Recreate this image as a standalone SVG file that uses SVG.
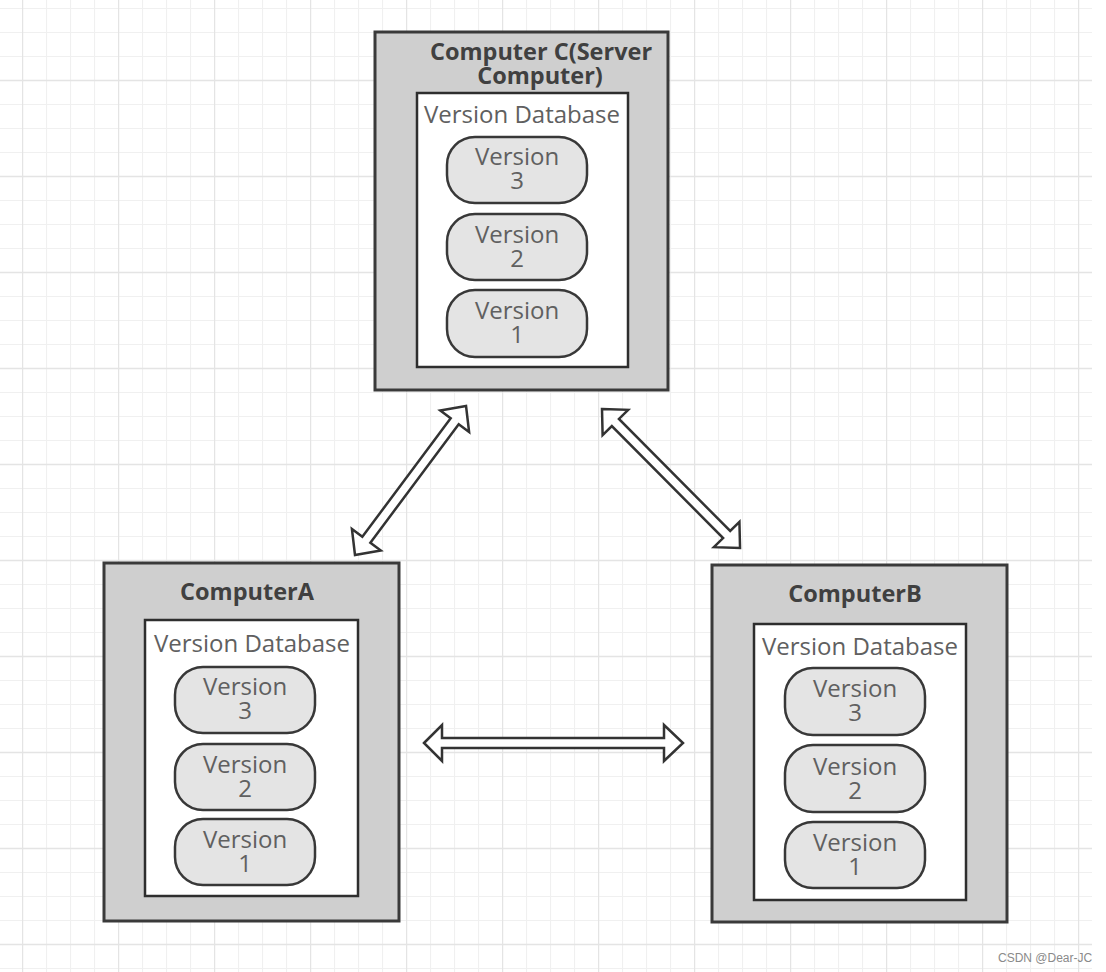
<svg xmlns="http://www.w3.org/2000/svg" width="1106" height="972" viewBox="0 0 1106 972">
<defs>
<pattern id="minor" patternUnits="userSpaceOnUse" x="22" y="8" width="24" height="24">
<path d="M0 0.5 H24 M0.5 0 V24" fill="none" stroke="#f0f0f0" stroke-width="1.2"/>
</pattern>
<pattern id="major" patternUnits="userSpaceOnUse" x="22" y="8" width="96" height="96">
<path d="M0 72.5 H96 M0.5 0 V96" fill="none" stroke="#e4e4e4" stroke-width="1.4"/>
</pattern>
<style>
.outer{fill:#cfcfcf;stroke:#3a3a3a;stroke-width:3}
.inner{fill:#ffffff;stroke:#2e2e2e;stroke-width:2.5}
.pill{fill:#e4e4e4;stroke:#383838;stroke-width:2.5}
.title{font-family:"Open Sans","DejaVu Sans",sans-serif;font-weight:bold;font-size:23.5px;fill:#404040;text-anchor:middle}
.db{font-family:"Open Sans","DejaVu Sans",sans-serif;font-size:24px;fill:#606060;text-anchor:middle}
.ver{font-family:"Open Sans","DejaVu Sans",sans-serif;font-size:24px;fill:#606060;text-anchor:middle}
.arrow{fill:#ffffff;stroke:#333333;stroke-width:2.5;stroke-linejoin:miter}
.wm{font-family:"Liberation Sans",Arial,sans-serif;font-size:12px;fill:#8a8a8a}
</style>
</defs>
<rect x="0" y="0" width="1106" height="972" fill="#ffffff"/>
<rect x="0" y="0" width="1092" height="972" fill="url(#minor)"/>
<rect x="0" y="0" width="1092" height="972" fill="url(#major)"/>

<g id="computerC">
<rect class="outer" x="375" y="32" width="293" height="358"/>
<text class="title" x="541" y="60"><tspan x="541" y="60">Computer C(Server</tspan><tspan x="540" y="84">Computer)</tspan></text>
<rect class="inner" x="417" y="93" width="211" height="274"/>
<text class="db" x="522" y="123">Version Database</text>
<rect class="pill" x="447" y="137" width="140" height="66" rx="28"/>
<text class="ver"><tspan x="517" y="165">Version</tspan><tspan x="517" y="189">3</tspan></text>
<rect class="pill" x="447" y="214" width="140" height="66" rx="28"/>
<text class="ver"><tspan x="517" y="243">Version</tspan><tspan x="517" y="267">2</tspan></text>
<rect class="pill" x="447" y="290" width="140" height="67" rx="28"/>
<text class="ver"><tspan x="517" y="319">Version</tspan><tspan x="517" y="343">1</tspan></text>
</g>

<g id="computerA">
<rect class="outer" x="104" y="563" width="295" height="358"/>
<text class="title" x="247" y="600">ComputerA</text>
<rect class="inner" x="145" y="620" width="213" height="276"/>
<text class="db" x="252" y="652">Version Database</text>
<rect class="pill" x="175" y="667" width="140" height="66" rx="28"/>
<text class="ver"><tspan x="245" y="695">Version</tspan><tspan x="245" y="719">3</tspan></text>
<rect class="pill" x="175" y="744" width="140" height="66" rx="28"/>
<text class="ver"><tspan x="245" y="773">Version</tspan><tspan x="245" y="797">2</tspan></text>
<rect class="pill" x="175" y="819" width="140" height="66" rx="28"/>
<text class="ver"><tspan x="245" y="848">Version</tspan><tspan x="245" y="872">1</tspan></text>
</g>

<g id="computerB">
<rect class="outer" x="712" y="565" width="295" height="357"/>
<text class="title" x="855" y="602">ComputerB</text>
<rect class="inner" x="754" y="624" width="212" height="276"/>
<text class="db" x="860" y="655">Version Database</text>
<rect class="pill" x="785" y="668" width="140" height="67" rx="28"/>
<text class="ver"><tspan x="855" y="697">Version</tspan><tspan x="855" y="721">3</tspan></text>
<rect class="pill" x="785" y="745" width="140" height="67" rx="28"/>
<text class="ver"><tspan x="855" y="775">Version</tspan><tspan x="855" y="799">2</tspan></text>
<rect class="pill" x="785" y="822" width="140" height="66" rx="28"/>
<text class="ver"><tspan x="855" y="851">Version</tspan><tspan x="855" y="875">1</tspan></text>
</g>

<g id="connectors">
<polygon class="arrow" transform="translate(355,555) rotate(-53.3)" points="0,0 19,-18 19,-5 166.8,-5 166.8,-18 185.8,0 166.8,18 166.8,5 19,5 19,18"/>
<polygon class="arrow" transform="translate(602,409) rotate(45.2)" points="0,0 19,-18 19,-5 176.9,-5 176.9,-18 195.9,0 176.9,18 176.9,5 19,5 19,18"/>
<polygon class="arrow" transform="translate(424,743)" points="0,0 18,-18 18,-5 240,-5 240,-18 259,0 240,18 240,5 18,5 18,18"/>
</g>

<text class="wm" x="998" y="962">CSDN @Dear-JC</text>
</svg>
